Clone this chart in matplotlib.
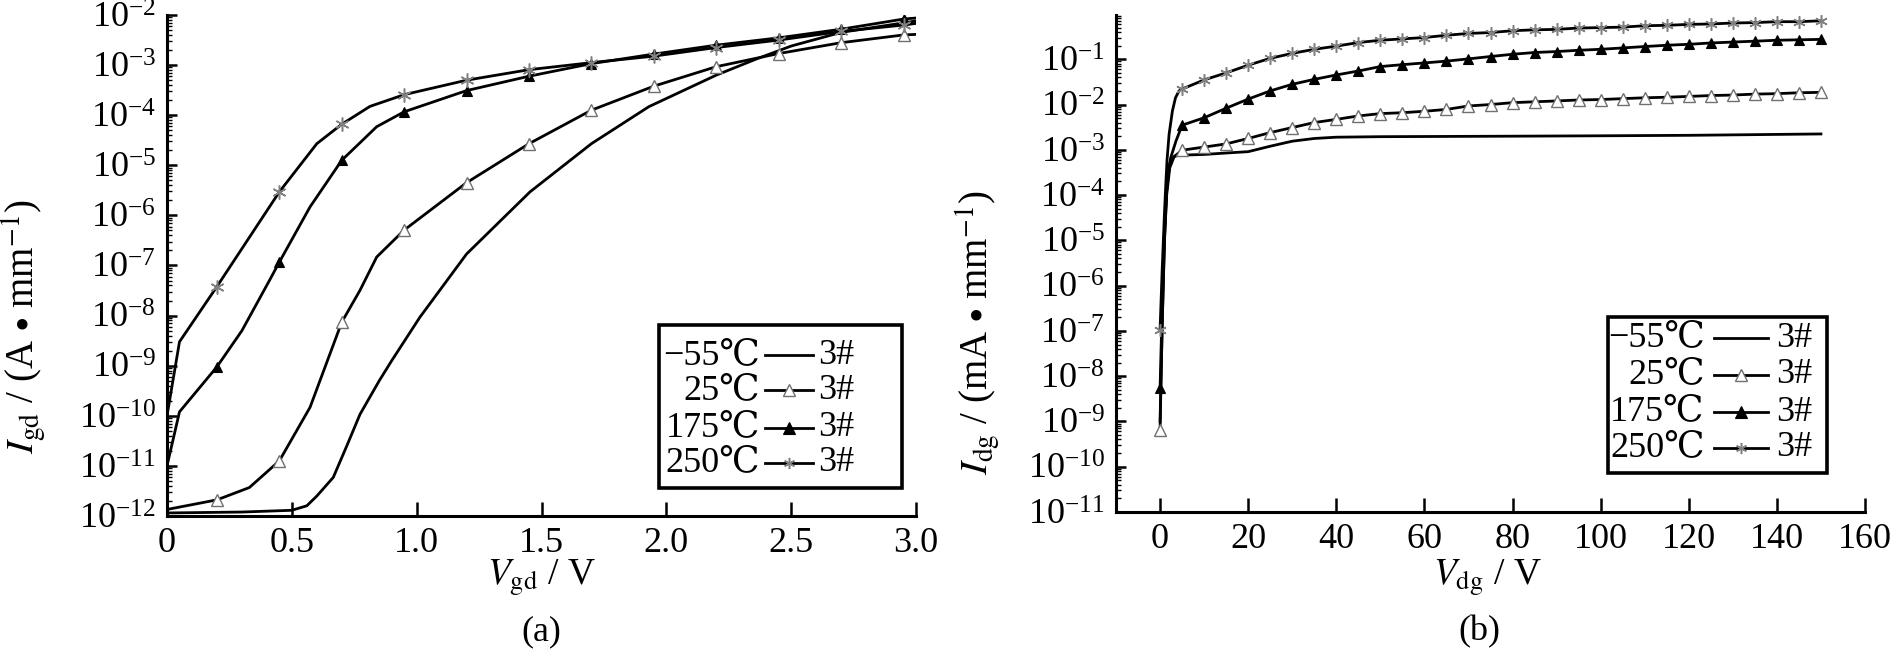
import numpy as np
import matplotlib
matplotlib.use("Agg")
import matplotlib.pyplot as plt
from matplotlib.ticker import LogLocator, FixedLocator, FixedFormatter, NullFormatter, NullLocator
from matplotlib.patches import Rectangle

plt.rcParams['font.family'] = ['Liberation Serif', 'DejaVu Serif', 'Noto Sans CJK SC']
plt.rcParams['mathtext.fontset'] = 'stix'

# ---------------- Panel (a) data: I_gd (A/mm) vs V_gd (V) ----------------
a_x_m55 = [0, 0.3, 0.5, 0.56, 0.6, 0.666, 0.72, 0.773, 0.85, 0.9, 1.013, 1.2, 1.454, 1.7, 1.93, 2.2, 2.36, 2.5, 2.7, 3.0]
a_y_m55 = [1.15e-12, 1.2e-12, 1.3e-12, 1.6e-12, 2.5e-12, 5.9e-12, 2.5e-11, 1.07e-10, 5e-10, 1.26e-9, 9.3e-9,
           1.7e-7, 2.95e-6, 2.7e-5, 1.48e-4, 6.3e-4, 1.32e-3, 2.4e-3, 4.5e-3, 7.6e-3]

a_x_25 = [0, 0.2, 0.33, 0.45, 0.573, 0.7, 0.773, 0.84, 0.95, 1.2, 1.45, 1.7, 1.95, 2.2, 2.45, 2.7, 2.95, 3.0]
a_y_25 = [1.35e-12, 2.1e-12, 3.7e-12, 1.26e-11, 1.48e-10, 7.4e-9, 3.2e-8, 1.48e-7, 5.1e-7, 4.5e-6, 2.7e-5,
          1.26e-4, 3.8e-4, 9.3e-4, 1.7e-3, 2.8e-3, 4.0e-3, 4.1e-3]

a_x_175 = [0, 0.05, 0.2, 0.3, 0.41, 0.45, 0.573, 0.7, 0.84, 0.95, 1.2, 1.45, 1.7, 1.95, 2.2, 2.45, 2.7, 2.95, 3.0]
a_y_175 = [1e-11, 1.2e-10, 9.5e-10, 5e-9, 5e-8, 1.17e-7, 1.48e-6, 1.26e-5, 5.9e-5, 1.17e-4, 3.1e-4, 6.0e-4,
           1.07e-3, 1.66e-3, 2.5e-3, 3.5e-3, 5.2e-3, 8.3e-3, 8.7e-3]

a_x_250 = [0, 0.05, 0.2, 0.45, 0.6, 0.7, 0.813, 0.95, 1.2, 1.45, 1.7, 1.95, 2.2, 2.45, 2.7, 2.95, 3.0]
a_y_250 = [1e-10, 3.0e-9, 3.8e-8, 2.95e-6, 2.7e-5, 6.6e-5, 1.5e-4, 2.57e-4, 5.0e-4, 8.1e-4, 1.12e-3,
           1.51e-3, 2.24e-3, 3.16e-3, 4.7e-3, 6.3e-3, 6.8e-3]

a_marker_x = [0.2, 0.45, 0.7, 0.95, 1.2, 1.45, 1.7, 1.95, 2.2, 2.45, 2.7, 2.95]
a_xticks = [0, 0.5, 1.0, 1.5, 2.0, 2.5, 3.0]
a_xticklabels = ['0', '0.5', '1.0', '1.5', '2.0', '2.5', '3.0']

# ---------------- Panel (b) data: I_dg (mA/mm) vs V_dg (V) ----------------
b_x_tail = [5, 10, 15, 20, 25, 30, 35, 40, 45, 50, 55, 60, 65, 70, 75, 80, 85, 90, 95, 100,
            105, 110, 115, 120, 125, 130, 135, 140, 145, 150]

b_x_m55 = [0, 0.5, 1.0, 1.5, 2.2, 3.2, 4.3, 10, 15, 20, 25, 30, 35, 40, 50, 80, 100, 120, 150]
b_y_m55 = [1e-9, 1.6e-7, 1e-5, 1.26e-4, 5e-4, 7.1e-4, 7.6e-4, 7.9e-4, 8.5e-4, 9.1e-4, 1.2e-3, 1.55e-3,
           1.78e-3, 1.9e-3, 1.95e-3, 2.0e-3, 2.04e-3, 2.09e-3, 2.24e-3]

b_x_25 = [0, 0.5, 1.0, 1.5, 2.2, 3.2] + b_x_tail
b_y_25 = [6.5e-10, 1.6e-7, 1e-5, 1e-4, 4e-4, 7.1e-4,
          9.8e-4, 1.15e-3, 1.35e-3, 1.78e-3, 2.4e-3, 3.1e-3, 4.0e-3, 4.7e-3, 5.6e-3, 6.3e-3,
          6.6e-3, 7.1e-3, 7.8e-3, 9.3e-3, 1.0e-2, 1.1e-2, 1.15e-2, 1.2e-2, 1.26e-2, 1.29e-2,
          1.35e-2, 1.41e-2, 1.45e-2, 1.51e-2, 1.58e-2, 1.62e-2, 1.7e-2, 1.74e-2, 1.82e-2, 1.86e-2]

b_x_175 = [0, 0.5, 1.0, 1.6, 2.4, 3.6] + b_x_tail
b_y_175 = [5.4e-9, 4e-7, 1.6e-5, 2.0e-4, 6.6e-4, 1.55e-3,
           3.5e-3, 5.1e-3, 8.3e-3, 1.32e-2, 2.0e-2, 2.8e-2, 3.6e-2, 4.5e-2, 5.5e-2, 6.9e-2,
           7.6e-2, 8.3e-2, 9.1e-2, 0.102, 0.115, 0.129, 0.141, 0.148, 0.158, 0.166,
           0.178, 0.191, 0.204, 0.214, 0.229, 0.240, 0.251, 0.263, 0.269, 0.275]

b_x_250 = [0, 0.5, 1.0, 1.3, 1.6, 2.05, 2.8, 3.5, 4.3] + b_x_tail
b_y_250 = [1.07e-7, 2.5e-6, 4e-5, 1.7e-4, 6.3e-4, 2.2e-3, 7.2e-3, 1.41e-2, 2.0e-2,
           2.2e-2, 3.5e-2, 5.0e-2, 7.4e-2, 0.105, 0.135, 0.166, 0.195, 0.234, 0.263,
           0.282, 0.302, 0.339, 0.372, 0.389, 0.427, 0.447, 0.457, 0.49, 0.50,
           0.513, 0.55, 0.562, 0.589, 0.603, 0.631, 0.646, 0.676, 0.676, 0.708]

b_marker_x = [0] + b_x_tail
b_xticks = [0, 20, 40, 60, 80, 100, 120, 140, 160]

legend_labels = ['\u221255\u2103', '25\u2103', '175\u2103', '250\u2103']
legend_tag = '3#'

# ---------------- styles ----------------
LW = 2.0
styles = {
    'm55': dict(color='black', lw=LW, marker=None),
    '25': dict(color='black', lw=LW, marker='^', mfc='white', mec='#707070', mew=1.0),
    '175': dict(color='black', lw=LW, marker='^', mfc='black', mec='black', mew=0.8),
    '250': dict(color='black', lw=LW, marker=(6, 2, 0), mfc='none', mec='#808080', mew=1.1),
}


def mask(xs, mx):
    xs = np.round(np.asarray(xs, dtype=float), 3)
    return list(np.isin(xs, np.round(np.asarray(mx, dtype=float), 3)))


def style_axes(ax):
    for s in ['top', 'right']:
        ax.spines[s].set_visible(False)
    for s in ['left', 'bottom']:
        ax.spines[s].set_linewidth(2.2)
    ax.tick_params(which='both', direction='in', labelsize=26, colors='black')
    ax.tick_params(axis='x', which='major', length=10, width=1.8, pad=8)
    ax.tick_params(axis='y', which='major', length=7, width=1.8, pad=8)
    ax.tick_params(axis='y', which='minor', length=3.5, width=1.0)
    ax.xaxis.set_minor_locator(NullLocator())
    ax.yaxis.set_major_locator(LogLocator(base=10, numticks=30))
    ax.yaxis.set_minor_locator(LogLocator(base=10, subs=np.arange(2, 10), numticks=300))
    ax.yaxis.set_minor_formatter(NullFormatter())


def draw_legend(ax, box, rows, text_r, l0, l1, tag_x, ms):
    rect = Rectangle((box[0], box[1]), box[2] - box[0], box[3] - box[1], transform=ax.transAxes,
                     facecolor='white', edgecolor='black', lw=2.6, zorder=5)
    ax.add_patch(rect)
    keys = ['m55', '25', '175', '250']
    for lab, key, y in zip(legend_labels, keys, rows):
        ax.text(text_r, y, lab, transform=ax.transAxes, ha='right', va='center', fontsize=26, zorder=6)
        st = dict(styles[key])
        ax.plot([l0, (l0 + l1) / 2, l1], [y, y, y], transform=ax.transAxes, markevery=[1],
                markersize=ms, zorder=6, **st)
        ax.text(tag_x, y, legend_tag, transform=ax.transAxes, ha='left', va='center', fontsize=26, zorder=6)


fig = plt.figure(figsize=(18.98, 6.67), dpi=100)
axa = fig.add_axes([167 / 1898, 1 - 516 / 667, 749 / 1898, 501 / 667])
axb = fig.add_axes([1116 / 1898, 1 - 512 / 667, 749 / 1898, 497 / 667])

# ---- panel a ----
axa.plot(a_x_m55, a_y_m55, **styles['m55'])
axa.plot(a_x_25, a_y_25, markevery=mask(a_x_25, a_marker_x), markersize=9, **styles['25'])
axa.plot(a_x_175, a_y_175, markevery=mask(a_x_175, a_marker_x), markersize=7, **styles['175'])
axa.plot(a_x_250, a_y_250, markevery=mask(a_x_250, a_marker_x), markersize=10, **styles['250'])
axa.set_yscale('log')
axa.set_xlim(0, 3.0)
axa.set_ylim(1e-12, 1e-2)
style_axes(axa)
axa.xaxis.set_major_locator(FixedLocator(a_xticks))
axa.xaxis.set_major_formatter(FixedFormatter(a_xticklabels))
draw_legend(axa, (0.657, 0.056, 0.981, 0.381), [0.321, 0.251, 0.176, 0.106],
            0.792, 0.798, 0.862, 0.869, 8)

# ---- panel b ----
axb.plot(b_x_m55, b_y_m55, **styles['m55'])
axb.plot(b_x_25, b_y_25, markevery=mask(b_x_25, b_marker_x), markersize=8, **styles['25'])
axb.plot(b_x_175, b_y_175, markevery=mask(b_x_175, b_marker_x), markersize=7, **styles['175'])
axb.plot(b_x_250, b_y_250, markevery=mask(b_x_250, b_marker_x), markersize=9, **styles['250'])
axb.set_yscale('log')
axb.set_xlim(-10, 160)
axb.set_ylim(1e-11, 0.95)
style_axes(axb)
axb.xaxis.set_major_locator(FixedLocator(b_xticks))
axb.xaxis.set_major_formatter(FixedFormatter([str(v) for v in b_xticks]))
draw_legend(axb, (0.657, 0.078, 0.949, 0.392), [0.350, 0.276, 0.201, 0.129],
            0.786, 0.798, 0.870, 0.882, 8)

# ---- labels ----
fig.text(541 / 1898, 1 - 578 / 667, r'$V_{\rm gd}$ / V', ha='center', va='center', fontsize=27)
fig.text(1487 / 1898, 1 - 578 / 667, r'$V_{\rm dg}$ / V', ha='center', va='center', fontsize=27)
fig.text(24 / 1898, 1 - 327 / 667, r'$I_{\rm gd}$ / (A $\bullet$ mm$^{-1}$)', ha='center', va='center',
         rotation=90, fontsize=28)
fig.text(978 / 1898, 1 - 333 / 667, r'$I_{\rm dg}$ / (mA $\bullet$ mm$^{-1}$)', ha='center', va='center',
         rotation=90, fontsize=28)
fig.text(541 / 1898, 1 - 632 / 667, '(a)', ha='center', va='center', fontsize=26)
fig.text(1479 / 1898, 1 - 632 / 667, '(b)', ha='center', va='center', fontsize=26)

fig.savefig('out.png', dpi=100)
